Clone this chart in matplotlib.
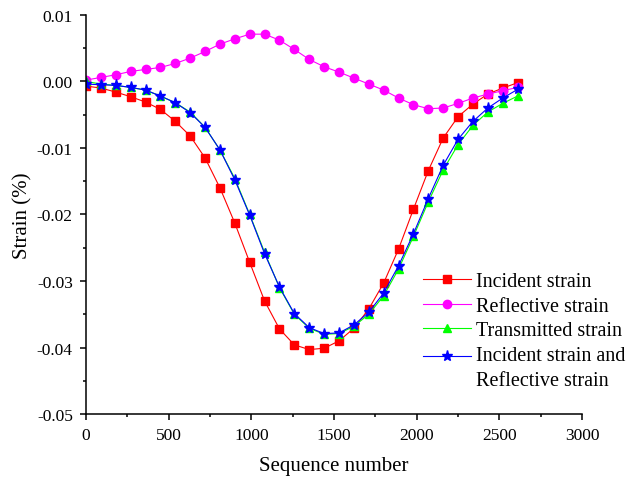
import numpy as np
import matplotlib
matplotlib.use('Agg')
import matplotlib.pyplot as plt
from matplotlib.ticker import MultipleLocator, FuncFormatter
from matplotlib.legend_handler import HandlerLine2D

plt.rcParams['font.family'] = ['Liberation Serif', 'DejaVu Serif']
plt.rcParams['axes.unicode_minus'] = False

# sample index of each recorded point (every 90 samples)
seq = np.arange(0, 2611, 90)

incident = [-0.0007, -0.0010, -0.0016, -0.0023, -0.0031, -0.0042, -0.0060, -0.0082,
			-0.0115, -0.0160, -0.0213, -0.0272, -0.0330, -0.0372, -0.0396, -0.0403,
			-0.0401, -0.0390, -0.0371, -0.0342, -0.0303, -0.0252, -0.0192, -0.0134,
			-0.0085, -0.0053, -0.0034, -0.0019, -0.0010, -0.0002]

reflective = [0.0002, 0.0006, 0.0010, 0.0015, 0.0018, 0.0021, 0.0027, 0.0035,
			  0.0045, 0.0056, 0.0064, 0.0071, 0.0071, 0.0062, 0.0048, 0.0033,
			  0.0022, 0.0014, 0.0005, -0.0004, -0.0013, -0.0025, -0.0035, -0.0041,
			  -0.0040, -0.0033, -0.0025, -0.0019, -0.0014, -0.0009]

transmitted = [0.0000, -0.0004, -0.0006, -0.0009, -0.0013, -0.0022, -0.0032, -0.0046,
			   -0.0069, -0.0103, -0.0146, -0.0200, -0.0257, -0.0310, -0.0350, -0.0371,
			   -0.0380, -0.0379, -0.0368, -0.0350, -0.0322, -0.0282, -0.0233, -0.0181,
			   -0.0133, -0.0095, -0.0066, -0.0046, -0.0033, -0.0022]

inc_plus_ref = [-0.0004, -0.0005, -0.0006, -0.0009, -0.0013, -0.0022, -0.0032, -0.0047,
				-0.0069, -0.0103, -0.0148, -0.0201, -0.0259, -0.0309, -0.0349, -0.0370,
				-0.0379, -0.0378, -0.0366, -0.0347, -0.0318, -0.0277, -0.0229, -0.0176,
				-0.0126, -0.0087, -0.0060, -0.0040, -0.0025, -0.0012]


def fmt_strain(v, pos):
	s = '%.2f' % v
	if s == '-0.00':
		s = '0.00'
	return s


class FirstLineHandler(HandlerLine2D):
	# puts the legend line next to the first row of a two-row label
	def __init__(self, lift, **kw):
		HandlerLine2D.__init__(self, **kw)
		self.lift = lift

	def create_artists(self, legend, orig_handle, xdescent, ydescent,
					   width, height, fontsize, trans):
		return HandlerLine2D.create_artists(self, legend, orig_handle, xdescent,
											ydescent - 2 * self.lift, width, height,
											fontsize, trans)


def main():
	fig = plt.figure(figsize=(6.3, 4.81), dpi=100)
	ax = fig.add_axes([0.1365, 0.137, 0.7875, 0.83])

	ax.plot(seq, incident, color='#ff0000', lw=0.8, marker='s', ms=5.2,
			label='Incident strain')
	ax.plot(seq, reflective, color='#ff00ff', lw=0.8, marker='o', ms=6,
			label='Reflective strain')
	ax.plot(seq, transmitted, color='#00ff00', lw=0.8, marker='^', ms=6,
			label='Transmitted strain')
	combo, = ax.plot(seq, inc_plus_ref, color='#0000ff', lw=0.8, marker='*', ms=8,
					 label='Incident strain and\nReflective strain')

	ax.set_xlim(0, 3000)
	ax.set_ylim(-0.05, 0.01)
	ax.xaxis.set_major_locator(MultipleLocator(500))
	ax.xaxis.set_minor_locator(MultipleLocator(250))
	ax.yaxis.set_major_locator(MultipleLocator(0.01))
	ax.yaxis.set_minor_locator(MultipleLocator(0.005))
	ax.yaxis.set_major_formatter(FuncFormatter(fmt_strain))

	for side in ['top', 'right']:
		ax.spines[side].set_visible(False)
	for side in ['left', 'bottom']:
		ax.spines[side].set_linewidth(1.1)
	ax.tick_params(which='major', direction='out', length=4, width=1.1,
				   labelsize=12.5, pad=5.5)
	ax.tick_params(which='minor', direction='out', length=2.5, width=1.1)

	ax.set_xlabel('Sequence number', fontsize=15, labelpad=9)
	ax.set_ylabel('Strain (%)', fontsize=15, labelpad=3)

	leg = ax.legend(loc='upper left', bbox_to_anchor=(0.671, 0.433),
					bbox_transform=fig.transFigure, frameon=False, fontsize=14.5,
					handlelength=2.4, handletextpad=0.25, labelspacing=0.28,
					borderpad=0, borderaxespad=0,
					handler_map={combo: FirstLineHandler(lift=8.6)})
	for t in leg.get_texts():
		t.set_linespacing(1.45)

	fig.savefig('out.png', dpi=100)


if __name__ == '__main__':
	main()
